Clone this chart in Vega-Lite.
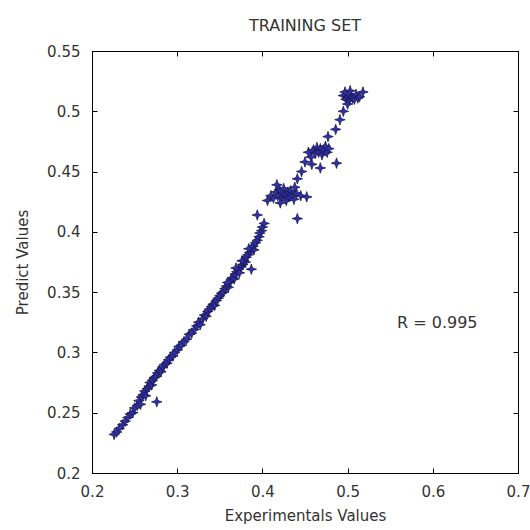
{
  "$schema": "https://vega.github.io/schema/vega-lite/v6.json",
  "autosize": "none",
  "width": 426,
  "height": 422,
  "padding": {"left": 92, "top": 51, "right": 12, "bottom": 57},
  "background": "white",
  "title": {"text": "TRAINING SET", "fontSize": 16, "font": "DejaVu Sans", "fontWeight": "normal", "color": "#333", "offset": 10},
  "config": {
    "view": {"stroke": "#000", "strokeWidth": 1},
    "axis": {
      "grid": false,
      "domainColor": "#000",
      "tickColor": "#000",
      "tickSize": -5,
      "labelFont": "DejaVu Sans",
      "labelFontSize": 15,
      "labelColor": "#333",
      "titleFont": "DejaVu Sans",
      "titleFontSize": 15,
      "titleFontWeight": "normal",
      "titleColor": "#333"
    }
  },
  "layer": [
    {
      "data": {"values": [
        {"exp": 0.226, "pred": 0.232}, {"exp": 0.229, "pred": 0.234}, {"exp": 0.232, "pred": 0.237}, {"exp": 0.236, "pred": 0.240},
        {"exp": 0.239, "pred": 0.243}, {"exp": 0.242, "pred": 0.246}, {"exp": 0.245, "pred": 0.249}, {"exp": 0.248, "pred": 0.250},
        {"exp": 0.250, "pred": 0.254}, {"exp": 0.253, "pred": 0.256}, {"exp": 0.255, "pred": 0.260}, {"exp": 0.257, "pred": 0.257},
        {"exp": 0.258, "pred": 0.263}, {"exp": 0.260, "pred": 0.265}, {"exp": 0.262, "pred": 0.268}, {"exp": 0.263, "pred": 0.264},
        {"exp": 0.265, "pred": 0.270}, {"exp": 0.267, "pred": 0.272}, {"exp": 0.268, "pred": 0.275}, {"exp": 0.270, "pred": 0.273},
        {"exp": 0.271, "pred": 0.277}, {"exp": 0.273, "pred": 0.279}, {"exp": 0.275, "pred": 0.280}, {"exp": 0.276, "pred": 0.259},
        {"exp": 0.277, "pred": 0.283}, {"exp": 0.279, "pred": 0.285}, {"exp": 0.281, "pred": 0.284}, {"exp": 0.283, "pred": 0.288},
        {"exp": 0.285, "pred": 0.290}, {"exp": 0.288, "pred": 0.291}, {"exp": 0.290, "pred": 0.294}, {"exp": 0.292, "pred": 0.296},
        {"exp": 0.295, "pred": 0.297}, {"exp": 0.297, "pred": 0.300}, {"exp": 0.300, "pred": 0.302}, {"exp": 0.302, "pred": 0.305},
        {"exp": 0.305, "pred": 0.306}, {"exp": 0.308, "pred": 0.309}, {"exp": 0.311, "pred": 0.311}, {"exp": 0.314, "pred": 0.315},
        {"exp": 0.317, "pred": 0.316}, {"exp": 0.320, "pred": 0.319}, {"exp": 0.323, "pred": 0.322}, {"exp": 0.325, "pred": 0.325},
        {"exp": 0.327, "pred": 0.323}, {"exp": 0.330, "pred": 0.328}, {"exp": 0.332, "pred": 0.331}, {"exp": 0.334, "pred": 0.330},
        {"exp": 0.336, "pred": 0.334}, {"exp": 0.338, "pred": 0.336}, {"exp": 0.340, "pred": 0.338}, {"exp": 0.342, "pred": 0.340},
        {"exp": 0.344, "pred": 0.339}, {"exp": 0.346, "pred": 0.343}, {"exp": 0.348, "pred": 0.345}, {"exp": 0.350, "pred": 0.347},
        {"exp": 0.352, "pred": 0.349}, {"exp": 0.354, "pred": 0.350}, {"exp": 0.356, "pred": 0.353}, {"exp": 0.358, "pred": 0.355},
        {"exp": 0.360, "pred": 0.354}, {"exp": 0.361, "pred": 0.358}, {"exp": 0.363, "pred": 0.360}, {"exp": 0.365, "pred": 0.362},
        {"exp": 0.367, "pred": 0.361}, {"exp": 0.368, "pred": 0.365}, {"exp": 0.370, "pred": 0.367}, {"exp": 0.372, "pred": 0.369},
        {"exp": 0.373, "pred": 0.366}, {"exp": 0.375, "pred": 0.371}, {"exp": 0.377, "pred": 0.373}, {"exp": 0.378, "pred": 0.376},
        {"exp": 0.380, "pred": 0.375}, {"exp": 0.381, "pred": 0.379}, {"exp": 0.383, "pred": 0.381}, {"exp": 0.387, "pred": 0.369},
        {"exp": 0.385, "pred": 0.383}, {"exp": 0.387, "pred": 0.386}, {"exp": 0.389, "pred": 0.388}, {"exp": 0.390, "pred": 0.385},
        {"exp": 0.392, "pred": 0.391}, {"exp": 0.394, "pred": 0.393}, {"exp": 0.396, "pred": 0.396}, {"exp": 0.397, "pred": 0.399},
        {"exp": 0.399, "pred": 0.401}, {"exp": 0.400, "pred": 0.404}, {"exp": 0.394, "pred": 0.414}, {"exp": 0.402, "pred": 0.407},
        {"exp": 0.384, "pred": 0.386}, {"exp": 0.376, "pred": 0.376}, {"exp": 0.369, "pred": 0.370}, {"exp": 0.359, "pred": 0.358},
        {"exp": 0.406, "pred": 0.426}, {"exp": 0.410, "pred": 0.430}, {"exp": 0.413, "pred": 0.428}, {"exp": 0.416, "pred": 0.433},
        {"exp": 0.418, "pred": 0.430}, {"exp": 0.420, "pred": 0.435}, {"exp": 0.422, "pred": 0.428}, {"exp": 0.424, "pred": 0.432},
        {"exp": 0.425, "pred": 0.436}, {"exp": 0.427, "pred": 0.430}, {"exp": 0.428, "pred": 0.426}, {"exp": 0.430, "pred": 0.433},
        {"exp": 0.431, "pred": 0.429}, {"exp": 0.433, "pred": 0.434}, {"exp": 0.435, "pred": 0.430}, {"exp": 0.437, "pred": 0.427},
        {"exp": 0.440, "pred": 0.432}, {"exp": 0.445, "pred": 0.430}, {"exp": 0.452, "pred": 0.429}, {"exp": 0.417, "pred": 0.439},
        {"exp": 0.441, "pred": 0.411}, {"exp": 0.421, "pred": 0.424}, {"exp": 0.438, "pred": 0.437},
        {"exp": 0.441, "pred": 0.444}, {"exp": 0.446, "pred": 0.450}, {"exp": 0.450, "pred": 0.458},
        {"exp": 0.454, "pred": 0.466}, {"exp": 0.457, "pred": 0.462}, {"exp": 0.460, "pred": 0.468}, {"exp": 0.462, "pred": 0.465},
        {"exp": 0.464, "pred": 0.470}, {"exp": 0.466, "pred": 0.466}, {"exp": 0.468, "pred": 0.469}, {"exp": 0.470, "pred": 0.464},
        {"exp": 0.472, "pred": 0.468}, {"exp": 0.474, "pred": 0.471}, {"exp": 0.476, "pred": 0.466}, {"exp": 0.478, "pred": 0.469},
        {"exp": 0.487, "pred": 0.457}, {"exp": 0.468, "pred": 0.453}, {"exp": 0.477, "pred": 0.479}, {"exp": 0.458, "pred": 0.456},
        {"exp": 0.486, "pred": 0.485}, {"exp": 0.491, "pred": 0.493}, {"exp": 0.495, "pred": 0.500},
        {"exp": 0.495, "pred": 0.513}, {"exp": 0.498, "pred": 0.510}, {"exp": 0.500, "pred": 0.512}, {"exp": 0.502, "pred": 0.509},
        {"exp": 0.504, "pred": 0.513}, {"exp": 0.506, "pred": 0.511}, {"exp": 0.508, "pred": 0.510}, {"exp": 0.510, "pred": 0.514},
        {"exp": 0.512, "pred": 0.511}, {"exp": 0.514, "pred": 0.512}, {"exp": 0.518, "pred": 0.516}, {"exp": 0.497, "pred": 0.516},
        {"exp": 0.503, "pred": 0.517}, {"exp": 0.500, "pred": 0.506}
      ]},
      "mark": {
        "type": "point",
        "shape": "M0,-1L0.24,-0.24L1,0L0.24,0.24L0,1L-0.24,0.24L-1,0L-0.24,-0.24Z",
        "filled": true,
        "size": 110,
        "fill": "#2f2fb0",
        "stroke": "#1c1c50",
        "strokeWidth": 0.8,
        "opacity": 1
      },
      "encoding": {
        "x": {"field": "exp", "type": "quantitative", "scale": {"domain": [0.2, 0.7], "nice": false, "zero": false},
          "axis": {"title": "Experimentals Values", "values": [0.2, 0.3, 0.4, 0.5, 0.6, 0.7], "format": "~g", "labelPadding": 16, "titlePadding": 9, "labelFlush": false}},
        "y": {"field": "pred", "type": "quantitative", "scale": {"domain": [0.2, 0.55], "nice": false, "zero": false},
          "axis": {"title": "Predict Values", "values": [0.2, 0.25, 0.3, 0.35, 0.4, 0.45, 0.5, 0.55], "format": "~g", "labelPadding": 17, "titlePadding": 16, "labelFlush": false}}
      }
    },
    {
      "data": {"values": [{"lx": 0.558, "ly": 0.324, "label": "R = 0.995"}]},
      "mark": {"type": "text", "align": "left", "baseline": "middle", "font": "DejaVu Sans", "fontSize": 16, "color": "#333"},
      "encoding": {
        "x": {"field": "lx", "type": "quantitative", "scale": {"domain": [0.2, 0.7], "nice": false, "zero": false},
          "axis": {"orient": "top", "labels": false, "title": null, "values": [0.2, 0.3, 0.4, 0.5, 0.6, 0.7], "domain": false}},
        "y": {"field": "ly", "type": "quantitative", "scale": {"domain": [0.2, 0.55], "nice": false, "zero": false},
          "axis": {"orient": "right", "labels": false, "title": null, "values": [0.2, 0.25, 0.3, 0.35, 0.4, 0.45, 0.5, 0.55], "domain": false}},
        "text": {"field": "label"}
      }
    }
  ],
  "resolve": {"axis": {"x": "independent", "y": "independent"}}
}
